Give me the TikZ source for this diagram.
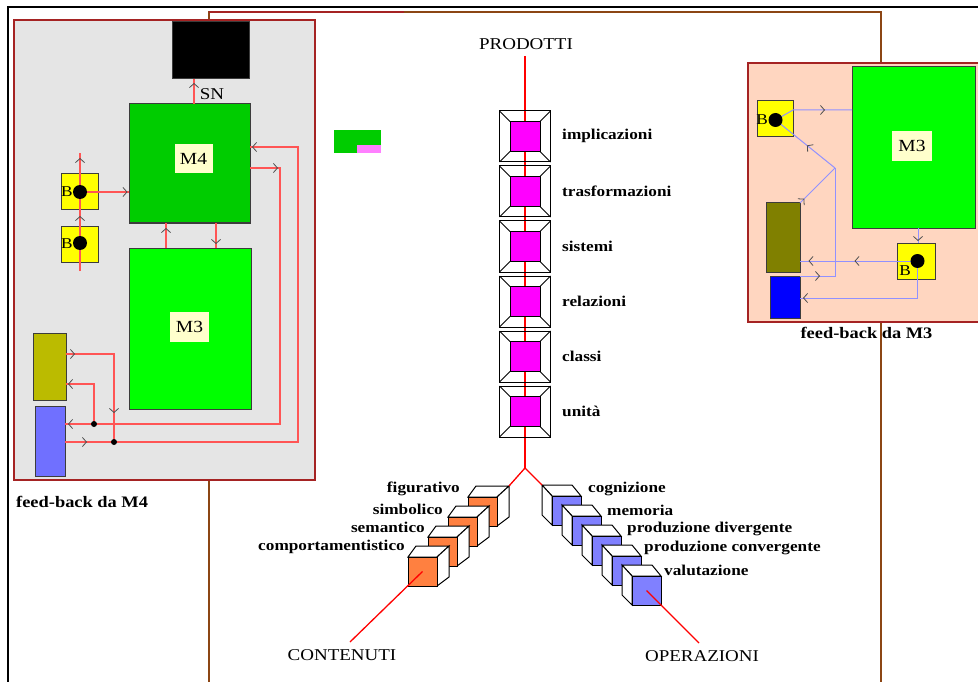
\documentclass[tikz,border=0pt]{standalone}
\usepackage{fontspec}
\setmainfont{Liberation Serif}[FakeStretch=1.15]
\usetikzlibrary{arrows.meta,decorations.markings}
\definecolor{grayp}{RGB}{229,229,229}
\definecolor{panelb}{RGB}{165,35,35}
\definecolor{peach}{RGB}{255,214,192}
\definecolor{brownf}{RGB}{140,70,20}
\definecolor{redl}{RGB}{255,85,85}
\definecolor{redc}{RGB}{255,0,0}
\definecolor{bluel}{RGB}{145,145,255}
\definecolor{chevc}{RGB}{80,80,80}
\definecolor{gdark}{RGB}{0,204,0}
\definecolor{glight}{RGB}{0,255,0}
\definecolor{lyel}{RGB}{255,255,204}
\definecolor{olivel}{RGB}{187,187,0}
\definecolor{oliver}{RGB}{128,128,0}
\definecolor{bluebl}{RGB}{112,112,255}
\definecolor{bluebr}{RGB}{0,0,255}
\definecolor{magc}{RGB}{255,0,255}
\definecolor{orc}{RGB}{255,128,64}
\definecolor{cubeb}{RGB}{128,128,255}
\definecolor{pinkc}{RGB}{255,128,255}
\definecolor{bordc}{RGB}{60,60,60}
\definecolor{yelc}{RGB}{255,255,0}
\tikzset{
 chev/.tip={Straight Barb[length=4pt,width=9pt,line width=0.8pt,color=chevc]},
 sz/.style n args={2}{minimum width=#1pt,minimum height=#2pt},
 bx/.style={rectangle,draw=bordc,line width=1pt,inner sep=0pt,outer sep=0pt},
 lblbox/.style={rectangle,fill=lyel,inner sep=0pt,minimum width=38pt,minimum height=29pt,font=\fontsize{17}{19}\selectfont},
 btxt/.style={inner sep=0pt,font=\fontsize{15}{17}\selectfont},
 rl/.style={draw=redl,line width=1.2pt},
 bl/.style={draw=bluel,line width=1pt},
 cl/.style={draw=redc,line width=1.3pt},
 tipat/.style={postaction={decorate},decoration={markings,mark=at position #1 with {\arrow{chev}}}},
 tipattwo/.style n args={2}{postaction={decorate},decoration={markings,mark=at position #1 with {\arrow{chev}},mark=at position #2 with {\arrow{chev}}}},
 bdot/.style={circle,fill=black,inner sep=0pt,minimum size=#1pt},
 labf/.style={inner sep=0pt,font=\fontsize{15}{17}\selectfont\bfseries},
 capf/.style={inner sep=0pt,font=\fontsize{16.5}{19}\selectfont},
 fbf/.style={inner sep=0pt,font=\fontsize{16}{18}\selectfont\bfseries},
 ocube/.pic={
  \filldraw[fill=white,draw=black,line width=1pt] (0,0) -- (8,-11) -- (41,-11) -- (29,0) -- cycle;
  \filldraw[fill=white,draw=black,line width=1pt] (29,0) -- (41,-11) -- (41,20) -- (29,29) -- cycle;
  \filldraw[fill=orc,draw=black,line width=1pt] (0,0) rectangle (29,29);
  \coordinate (-c) at (14.5,14.5);
  \coordinate (-tr) at (41,-11);
 },
 bcube/.pic={
  \filldraw[fill=white,draw=black,line width=1pt] (0,0) -- (-10,-11) -- (20,-11) -- (29,0) -- cycle;
  \filldraw[fill=white,draw=black,line width=1pt] (0,0) -- (-10,-11) -- (-10,19) -- (0,29) -- cycle;
  \filldraw[fill=cubeb,draw=black,line width=1pt] (0,0) rectangle (29,29);
  \coordinate (-c) at (14.5,14.5);
  \coordinate (-tl) at (-10,-11);
 }
}
\begin{document}
\begin{tikzpicture}[x=1pt,y=-1pt]
\useasboundingbox (0,0) rectangle (978,682);
\fill[white] (0,0) rectangle (978,682);
% frames
\draw[black,line width=1.5pt] (8,682) -- (8,7) -- (978,7);
\draw[brownf,line width=2pt] (209,682) -- (209,12) -- (881,12) -- (881,682);
\draw[panelb,line width=2pt] (209,12) -- (404,12);

% panels
\node[rectangle,draw=panelb,fill=grayp,line width=1.2pt,sz={301}{460},inner sep=0pt] (LP) at (164.5,250) {};
\node[rectangle,draw=panelb,fill=peach,line width=1.2pt,sz={242}{259},inner sep=0pt] (RP) at (869,192.5) {};

% ---------- left panel ----------
\node[bx,fill=black,sz={77}{57}] (SNB) at (210.5,50.5) {};
\node[capf] (SNl) at (212,94) {SN};
\node[bx,fill=gdark,sz={121}{119}] (M4) at (189.5,163.5) {};
\node[lblbox] (M4l) at (193.5,159) {M4};
\node[bx,fill=glight,sz={122}{161}] (M3L) at (190,328.5) {};
\node[lblbox,minimum width=39pt,minimum height=30pt] (M3Ll) at (189.5,327) {M3};
\node[bx,fill=yelc,sz={37}{36}] (B1) at (79.5,192) {};
\node[btxt] (B1t) at (67,192) {B};
\node[bx,fill=yelc,sz={37}{36}] (B2) at (79.5,244) {};
\node[btxt] (B2t) at (67,244) {B};
\node[bx,fill=olivel,sz={33}{67}] (OL) at (49.5,366.5) {};
\node[bx,fill=bluebl,sz={30}{70}] (BL) at (50,441) {};

\coordinate (d1) at (80,192);
\coordinate (d2) at (80,243);
\coordinate (cSN) at (194,0);
\coordinate (cUp) at (166,0);
\coordinate (cDn) at (216,0);
\coordinate (Bbot) at (80,271);
\coordinate (Btop) at (80,153);
\coordinate (cR1) at (298,0);
\coordinate (cR2) at (280,0);
\coordinate (y147) at (0,147);
\coordinate (y168) at (0,168);
\coordinate (y442) at (0,442);
\coordinate (y424) at (0,424);
\coordinate (y384) at (0,384);
\coordinate (y354) at (0,354);
\coordinate (j1) at (94,424);
\coordinate (j2) at (114,442);

\draw[rl,tipat=-4pt] (cSN |- M4.north) -- (cSN |- SNB.south);
\draw[rl,tipat=-5pt] (cUp |- M3L.north) -- (cUp |- M4.south);
\draw[rl,tipat=-4pt] (cDn |- M4.south) -- (cDn |- M3L.north);
\draw[rl,tipat=-1.5pt] (d1) -- (d1 -| M4.west);
\draw[rl,tipattwo={55pt}{113pt}] (Bbot) -- (Btop);
\draw[rl,tipattwo={22pt}{-2pt}] (BL.east |- y442) -- (cR1 |- y442) -- (cR1 |- y147) -- (M4.east |- y147);
\draw[rl,tipattwo={28pt}{-3pt}] (M4.east |- y168) -- (cR2 |- y168) -- (cR2 |- y424) -- (BL.east |- y424);
\draw[rl,tipat=-2pt] (j1) -- (j1 |- y384) -- (OL.east |- y384);
\draw[rl,tipattwo={9pt}{107pt}] (OL.east |- y354) -- (j2 |- y354) -- (j2);
\node[bdot=14] (D1) at (d1) {};
\node[bdot=14] (D2) at (d2) {};
\node[bdot=6] (J1) at (j1) {};
\node[bdot=6] (J2) at (j2) {};
\node[fbf,anchor=west] (FB4) at (16,502) {feed-back da M4};

% ---------- right panel ----------
\node[bx,fill=glight,sz={123}{161}] (M3R) at (913.5,147.5) {};
\node[lblbox,minimum width=40pt,minimum height=30pt] (M3Rl) at (912,146) {M3};
\node[bx,fill=yelc,sz={36}{36}] (BR1) at (775,119) {};
\node[btxt] (BR1t) at (762,120) {B};
\node[bx,fill=yelc,sz={38}{36}] (BR2) at (916,261) {};
\node[btxt] (BR2t) at (905,271) {B};
\node[bx,fill=oliver,sz={34}{69}] (OR) at (783,237.5) {};
\node[bx,fill=bluebr,sz={30}{42}] (BR) at (785,297) {};
\coordinate (dr1) at (775.5,120);
\coordinate (dr2) at (917.5,261);
\coordinate (RJ) at (835,168);
\coordinate (r110) at (0,110);
\coordinate (r298) at (0,298);
\coordinate (x918) at (918,0);
\draw[bl,tipat=-27pt] (dr1) -- (BR1.east |- r110) -- (M3R.west |- r110);
\draw[bl,tipat=36pt] (RJ) -- (dr1);
\draw[bl,tipat=6pt] (OR.north east) -- (RJ);
\draw[bl,tipat=20pt] (BR.north east) -- (RJ |- BR.north east) -- (RJ);
\draw[bl,tipat=-2pt] (x918 |- M3R.south) -- (x918 |- BR2.north);
\draw[bl,tipattwo={63pt}{109pt}] (dr2) -- (dr2 -| OR.east);
\draw[bl,tipat=-3pt] (dr2) -- (dr2 |- r298) -- (BR.east |- r298);
\node[bdot=14] (DR1) at (dr1) {};
\node[bdot=14] (DR2) at (dr2) {};
\node[fbf] (FB3) at (866.5,333) {feed-back da M3};

% small green/pink block
\node[rectangle,fill=gdark,inner sep=0pt,sz={47}{23}] (GB) at (357.5,141.5) {};
\node[rectangle,fill=pinkc,inner sep=0pt,sz={24}{8}] (PB) at (369,149) {};

% ---------- centre ----------
\node[capf] (PROD) at (526,44) {PRODOTTI};
\coordinate (Ptop) at (525,56);
\coordinate (J0) at (525,468);
\foreach \i in {0,...,5} {
  \node[rectangle,fill=white,inner sep=0pt,outer sep=0pt,sz={51}{51}] (P\i) at (525,{136.5+55*\i}) {};
}
\draw[cl] (Ptop) -- (J0);
\foreach \i in {0,...,5} {
  \node[rectangle,draw=black,fill=magc,line width=0.8pt,inner sep=0pt,outer sep=0pt,sz={30}{30}] (Q\i) at (P\i) {};
  \draw[black,line width=0.8pt] (P\i.north west) -- (Q\i.north west)
     (P\i.north east) -- (Q\i.north east)
     (P\i.south west) -- (Q\i.south west)
     (P\i.south east) -- (Q\i.south east);
  \draw[black,line width=1pt] (P\i.north west) rectangle (P\i.south east);
}
\foreach \i/\t in {0/implicazioni,1/trasformazioni,2/sistemi,3/relazioni,4/classi,5/unità} {
  \node[labf,anchor=west] (L\i) at (562,{136+55*\i}) {\t};
}

% cubes
\foreach \k in {0,...,3} { \pic (oc\k) at ({468-20*\k},{497+20*\k}) {ocube}; }
\foreach \k in {0,...,4} { \pic (bc\k) at ({552+20*\k},{496+20*\k}) {bcube}; }
\draw[cl] (J0) -- (oc0-tr);
\draw[cl] (J0) -- (bc0-tl);
\coordinate (contE) at (350,642);
\coordinate (operE) at (699,643);
\draw[cl] (oc3-c) -- (contE);
\draw[cl] (bc4-c) -- (operE);

\node[labf,anchor=east] (C0) at (460,489) {figurativo};
\node[labf,anchor=east] (C1) at (443,509) {simbolico};
\node[labf,anchor=east] (C2) at (425,527) {semantico};
\node[labf,anchor=east] (C3) at (405,547) {comportamentistico};
\node[labf,anchor=west] (O0) at (588,489) {cognizione};
\node[labf,anchor=west] (O1) at (607,510) {memoria};
\node[labf,anchor=west] (O2) at (627,529) {produzione divergente};
\node[labf,anchor=west] (O3) at (644,548) {produzione convergente};
\node[labf,anchor=west] (O4) at (664,570) {valutazione};
\node[capf] (CONT) at (342,655) {CONTENUTI};
\node[capf] (OPER) at (702,656) {OPERAZIONI};
\end{tikzpicture}
\end{document}
